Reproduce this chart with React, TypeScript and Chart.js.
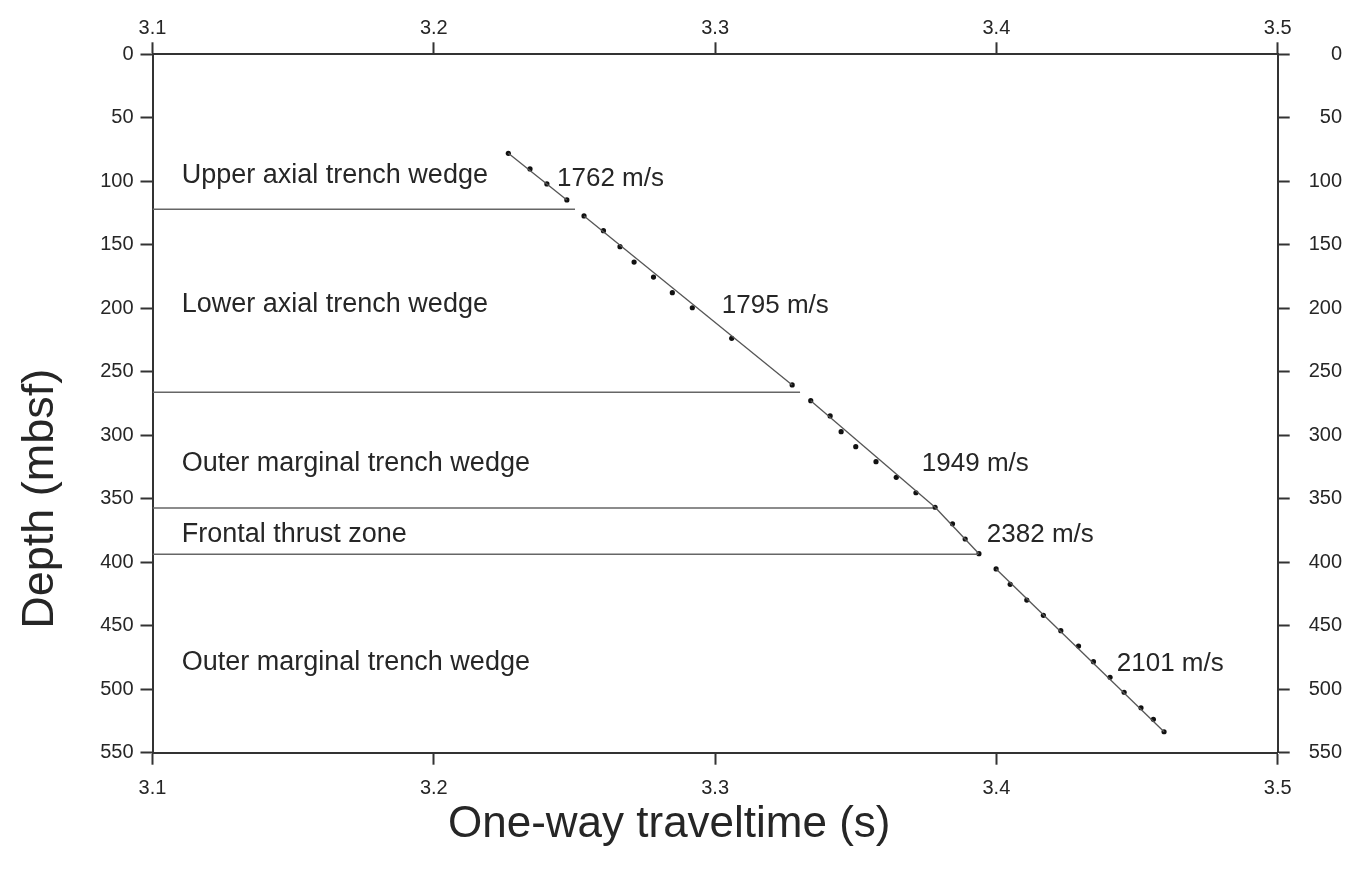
import React, { useEffect, useRef } from "react";
import { Chart, registerables } from "chart.js";

Chart.register(...registerables);

// ---- data ----
const timeTicks = [3.1, 3.2, 3.3, 3.4, 3.5];
const depthTicks = [0, 50, 100, 150, 200, 250, 300, 350, 400, 450, 500, 550];

const traveltime = [
  3.2265, 3.2342, 3.2402, 3.2473, 3.2534, 3.2603, 3.2662, 3.2712, 3.2781, 3.2848,
  3.2919, 3.3059, 3.3274, 3.334, 3.3409, 3.3448, 3.35, 3.3572, 3.3644, 3.3714,
  3.3782, 3.3844, 3.3889, 3.3938, 3.3999, 3.4049, 3.4108, 3.4167, 3.4229, 3.4292,
  3.4345, 3.4404, 3.4454, 3.4514, 3.4558, 3.4596,
];
const depth = [
  78.0, 90.3, 102.1, 114.7, 127.3, 138.9, 151.5, 163.6, 175.4, 187.7,
  199.6, 223.7, 260.4, 272.8, 284.8, 297.2, 309.0, 320.8, 333.1, 345.3,
  356.7, 369.7, 381.7, 393.3, 405.3, 417.4, 429.8, 441.8, 453.9, 466.0,
  478.3, 490.6, 502.4, 514.6, 523.7, 533.5,
];

// velocity fit segments
const fitStartTime = [3.2265, 3.2534, 3.334, 3.3782, 3.3999];
const fitStartDepth = [78.0, 127.3, 272.8, 356.7, 405.3];
const fitEndTime = [3.2473, 3.3274, 3.3782, 3.3938, 3.4596];
const fitEndDepth = [114.7, 260.4, 356.7, 393.3, 533.5];

// unit boundaries
const boundaryDepth = [122.1, 266.2, 357.3, 393.8];
const boundaryEndTime = [3.2502, 3.3302, 3.3775, 3.3935];

// labels
const unitNames = [
  "Upper axial trench wedge",
  "Lower axial trench wedge",
  "Outer marginal trench wedge",
  "Frontal thrust zone",
  "Outer marginal trench wedge",
];
const unitLabelDepth = [101.6, 203, 328, 384, 485];
const unitLabelTime = 3.1104;
const velocityLabels = ["1762 m/s", "1795 m/s", "1949 m/s", "2382 m/s", "2101 m/s"];
const velocityLabelTime = [3.2438, 3.3024, 3.3735, 3.3966, 3.4428];
const velocityLabelDepth = [103.7, 204.0, 328.2, 383.8, 485.4];

const xTitle = "One-way traveltime (s)";
const yTitle = "Depth (mbsf)";
const xTitleCenter = 3.2837;
const yTitleCenter = 350;

const FONT = "'Liberation Sans', Arial, Helvetica, sans-serif";
const TEXT = "#262626";
const AXIS = "#333333";

const labelPlugin = {
  id: "labels",
  afterDatasetsDraw(chart: any) {
    const ctx = chart.ctx;
    const xs = chart.scales.x;
    const ys = chart.scales.y;
    ctx.save();
    ctx.fillStyle = TEXT;
    ctx.textBaseline = "alphabetic";
    ctx.textAlign = "left";
    ctx.font = `27px ${FONT}`;
    unitNames.forEach((n, i) => {
      ctx.fillText(n, xs.getPixelForValue(unitLabelTime), ys.getPixelForValue(unitLabelDepth[i]));
    });
    ctx.font = `26px ${FONT}`;
    velocityLabels.forEach((n, i) => {
      ctx.fillText(n, xs.getPixelForValue(velocityLabelTime[i]), ys.getPixelForValue(velocityLabelDepth[i]));
    });
    ctx.restore();
  },
  afterDraw(chart: any) {
    const ctx = chart.ctx;
    const xs = chart.scales.x;
    const ys = chart.scales.y;
    ctx.save();
    ctx.fillStyle = TEXT;
    ctx.font = `44px ${FONT}`;
    ctx.textAlign = "center";
    ctx.textBaseline = "alphabetic";
    ctx.fillText(xTitle, xs.getPixelForValue(xTitleCenter), 837);
    ctx.font = `45px ${FONT}`;
    ctx.translate(53, ys.getPixelForValue(yTitleCenter));
    ctx.rotate(-Math.PI / 2);
    ctx.fillText(yTitle, 0, 0);
    ctx.restore();
  },
};

export default function App() {
  const ref = useRef<HTMLCanvasElement | null>(null);
  useEffect(() => {
    if (!ref.current) return;
    const lineDatasets: any[] = [];
    fitStartTime.forEach((t, i) => {
      lineDatasets.push({
        data: [
          { x: t, y: fitStartDepth[i] },
          { x: fitEndTime[i], y: fitEndDepth[i] },
        ],
        showLine: true,
        borderColor: "#555555",
        borderWidth: 1.3,
        pointRadius: 0,
        xAxisID: "x",
        yAxisID: "y",
      });
    });
    boundaryDepth.forEach((d, i) => {
      lineDatasets.push({
        data: [
          { x: timeTicks[0], y: d },
          { x: boundaryEndTime[i], y: d },
        ],
        showLine: true,
        borderColor: "#666666",
        borderWidth: 1.5,
        pointRadius: 0,
        xAxisID: "x",
        yAxisID: "y",
      });
    });
    const pointDs = {
      data: traveltime.map((t, i) => ({ x: t, y: depth[i] })),
      showLine: false,
      pointRadius: 2.6,
      pointBackgroundColor: "#111111",
      pointBorderWidth: 0,
      xAxisID: "x",
      yAxisID: "y",
    };
    const tickFont = { family: FONT, size: 20 };
    const gridCfg = {
      display: true,
      drawOnChartArea: false,
      drawTicks: true,
      tickLength: 12,
      tickWidth: 2,
      color: AXIS,
    };
    const border = { display: true, color: AXIS, width: 2 };
    const setX = (s: any) => { s.ticks = timeTicks.map((v) => ({ value: v })); };
    const setY = (s: any) => { s.ticks = depthTicks.map((v) => ({ value: v })); };
    const chart = new Chart(ref.current, {
      type: "scatter",
      data: { datasets: [...lineDatasets, pointDs] },
      options: {
        animation: false,
        responsive: false,
        layout: { padding: { left: 0, right: 17, top: 0, bottom: 0 } },
        plugins: { legend: { display: false }, tooltip: { enabled: false } },
        scales: {
          x: {
            type: "linear",
            position: "bottom",
            min: 3.1,
            max: 3.5,
            afterBuildTicks: setX,
            afterFit: (s: any) => { s.height = 128.3; },
            ticks: { font: tickFont, color: TEXT, padding: 12, maxRotation: 0, callback: (v: any) => Number(v).toFixed(1) },
            grid: gridCfg,
            border,
          },
          x2: {
            type: "linear",
            position: "top",
            min: 3.1,
            max: 3.5,
            afterBuildTicks: setX,
            afterFit: (s: any) => { s.height = 54.3; },
            ticks: { font: tickFont, color: TEXT, padding: 2, maxRotation: 0, callback: (v: any) => Number(v).toFixed(1) },
            grid: gridCfg,
            border,
          },
          y: {
            type: "linear",
            position: "left",
            reverse: true,
            min: 0,
            max: 550,
            afterBuildTicks: setY,
            afterFit: (s: any) => { s.width = 152.5; },
            ticks: { font: tickFont, color: TEXT, padding: 7, callback: (v: any) => String(v) },
            grid: gridCfg,
            border,
          },
          y2: {
            type: "linear",
            position: "right",
            reverse: true,
            min: 0,
            max: 550,
            afterBuildTicks: setY,
            afterFit: (s: any) => { s.width = 64.3; },
            ticks: { font: tickFont, color: TEXT, padding: 7, crossAlign: "far", callback: (v: any) => String(v) },
            grid: gridCfg,
            border,
          },
        },
      } as any,
      plugins: [labelPlugin],
    });
    return () => chart.destroy();
  }, []);
  return (
    <canvas
      ref={ref}
      width={1359}
      height={881}
      style={{ position: "absolute", left: 0, top: 0, display: "block", background: "#fff" }}
    />
  );
}
